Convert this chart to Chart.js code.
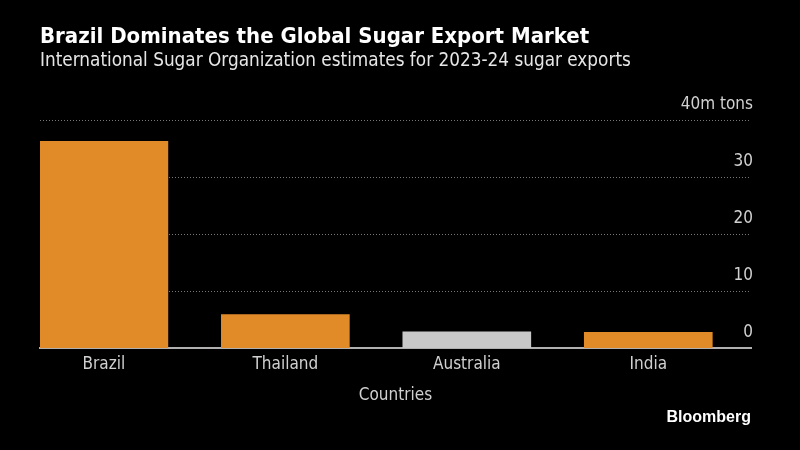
<!DOCTYPE html>
<html>
<head>
<meta charset="utf-8">
<script src="https://cdn.jsdelivr.net/npm/chart.js@4.4.7/dist/chart.umd.js"></script>
<style>
  html, body { margin: 0; padding: 0; background: #000; }
  #wrap { position: relative; width: 800px; height: 450px; }
  #brand {
    position: absolute; right: 49px; top: 408px;
    font: bold 16px "Liberation Sans", Arial, sans-serif; color: #fff;
  }
</style>
</head>
<body>
<div id="wrap">
  <canvas id="c" width="800" height="450"></canvas>
  <div id="brand">Bloomberg</div>
</div>
<script>
// 数据
const countries = ["Brazil", "Thailand", "Australia", "India"];
const exportsMt = [36.4, 5.9, 2.9, 2.8];
const barColors = ["#e08b27", "#e08b27", "#c8c8c8", "#e08b27"];
const yTicks = [0, 10, 20, 30, 40];

const FONT = '"DejaVu Sans Condensed", "DejaVu Sans", sans-serif';

const ctx = document.getElementById("c").getContext("2d");
new Chart(ctx, {
  type: "bar",
  data: {
    datasets: [
      {
        data: exportsMt.map((v, i) => ({ x: i, y: v })),
        backgroundColor: barColors,
        barThickness: 128,
        borderWidth: 0,
      },
    ],
  },
  options: {
    responsive: false,
    animation: false,
    layout: { padding: { top: 15, left: 40, right: 45, bottom: 44 } },
    plugins: {
      legend: { display: false },
      tooltip: { enabled: false },
      title: {
        display: true,
        align: "start",
        text: "Brazil Dominates the Global Sugar Export Market",
        color: "#fff",
        font: { family: FONT, size: 22, weight: "bold" },
        padding: { top: 9, bottom: 0 },
      },
      subtitle: {
        display: true,
        align: "start",
        text: "International Sugar Organization estimates for 2023-24 sugar exports",
        color: "#e6e6e6",
        font: { family: FONT, size: 18.8 },
        padding: { top: -1, bottom: 49 },
      },
    },
    scales: {
      x: {
        type: "linear",
        offset: false,
        min: -0.352,
        max: 3.566,
        afterBuildTicks: (axis) => {
          axis.ticks = countries.map((c, i) => ({ value: i }));
        },
        grid: { display: false },
        border: { display: true, color: "#b0b0b0", width: 2 },
        ticks: {
          autoSkip: false,
          maxRotation: 0,
          color: "#d0d0d0",
          font: { family: FONT, size: 17 },
          padding: -2,
          callback: (v) => countries[v] || "",
        },
        title: {
          display: true,
          text: "Countries",
          color: "#d0d0d0",
          font: { family: FONT, size: 17 },
          padding: { top: 13, bottom: 0 },
        },
      },
      y: {
        position: "right",
        min: 0,
        max: 40,
        afterBuildTicks: (axis) => {
          axis.ticks = yTicks.map((v) => ({ value: v }));
        },
        grid: {
          drawTicks: false,
          color: (c) => (c.tick && c.tick.value === 0 ? "rgba(0,0,0,0)" : "#777"),
          lineWidth: 1,
        },
        border: { display: false, dash: [1, 2] },
        ticks: {
          mirror: true,
          padding: 2,
          labelOffset: -16,
          color: "#d0d0d0",
          font: { family: FONT, size: 17 },
          callback: (v) => (v === 40 ? "40m tons" : v),
        },
      },
    },
  },
});
</script>
</body>
</html>
